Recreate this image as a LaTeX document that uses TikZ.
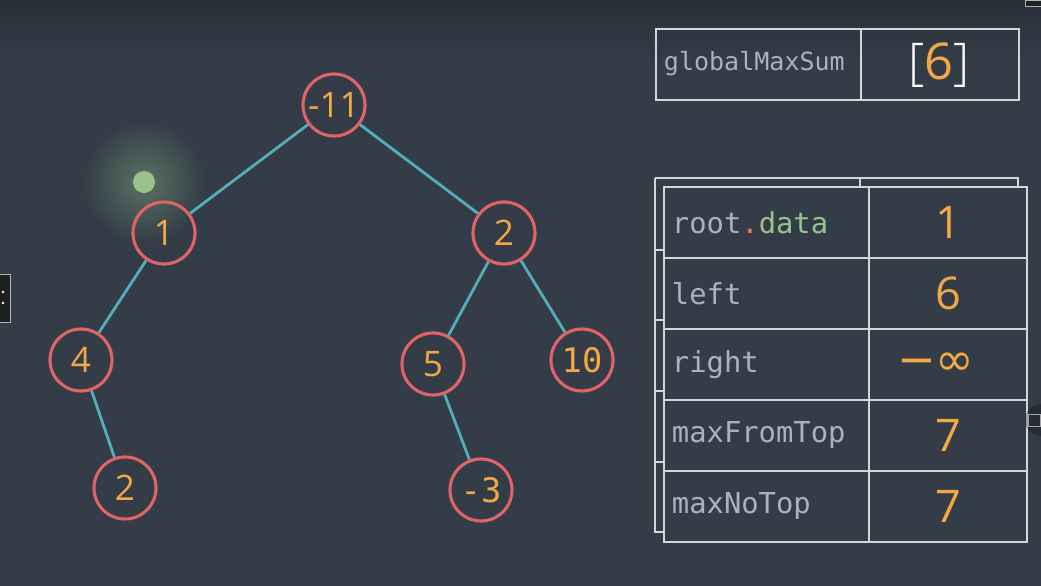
\documentclass[tikz,border=0pt]{standalone}
\usepackage{fontspec}
\setmainfont{Open Sans}
\setmonofont{DejaVu Sans Mono}
\newfontfamily\symfont{DejaVu Sans}
\newfontfamily\lightfont{Open Sans Light}
\definecolor{bg}{HTML}{333C47}
\definecolor{bgtop}{HTML}{292F39}
\definecolor{nodered}{HTML}{E06466}
\definecolor{edgeteal}{HTML}{52AEBA}
\definecolor{numorange}{HTML}{F2A945}
\definecolor{labelgray}{HTML}{A9B2BE}
\definecolor{datagreen}{HTML}{98C48C}
\definecolor{dotorange}{HTML}{E8784A}
\definecolor{tableline}{HTML}{D2D6DA}
\definecolor{glowgreen}{HTML}{98C48C}
\definecolor{widget}{HTML}{1E1F22}
\tikzset{
  tnode/.style={circle, draw=nodered, line width=2.2pt, minimum size=1.55cm, inner sep=0pt,
    text=numorange, font=\fontsize{25}{25}\selectfont},
  edge/.style={draw=edgeteal, line width=2pt},
  cellL/.style={draw=tableline, line width=1.2pt, rectangle, minimum width=5.125cm, minimum height=1.775cm, inner sep=0pt, anchor=north west},
  cellR/.style={draw=tableline, line width=1.2pt, rectangle, minimum width=3.95cm, minimum height=1.775cm, inner sep=0pt, anchor=north west},
  lbl/.style={anchor=west, text=labelgray, font=\ttfamily\fontsize{20.5}{20.5}\selectfont},
  val/.style={text=numorange, font=\fontsize{32}{32}\selectfont},
  backline/.style={draw=tableline, line width=1.2pt},
}
\begin{document}
\begin{tikzpicture}[x=0.025cm,y=-0.025cm]
\fill[bg] (0,0) rectangle (1041,586);
\shade[top color=bgtop, bottom color=bg] (0,0) rectangle (1041,60);
\useasboundingbox (0,0) rectangle (1041,586);

% UI widgets
\node[draw=gray!60, fill=widget, minimum width=0.3cm, minimum height=1.2cm, inner sep=0pt, anchor=north east] (lwidget) at (11,274) {};
\node[fill=white, circle, inner sep=0.7pt] (lw1) at (3,292) {};
\node[fill=white, circle, inner sep=0.7pt] (lw2) at (3,303) {};
\node[draw=gray!60, fill=widget, minimum width=0.4cm, minimum height=0.15cm, inner sep=0pt, anchor=north west] (twidget) at (1025,0) {};

% glow cursor
\shade[inner color=glowgreen!40!bg, outer color=bg] (144,182) circle (62);
\node[circle, fill=glowgreen, minimum size=0.55cm, inner sep=0pt] (cursor) at (144,182) {};

% tree nodes
\node[tnode] (nA) at (334,105) {-11};
\node[tnode] (nB) at (164,233) {1};
\node[tnode] (nC) at (504,233) {2};
\node[tnode] (nD) at (81,360) {4};
\node[tnode] (nE) at (433,364) {5};
\node[tnode, font=\ttfamily\fontsize{24}{24}\selectfont] (nF) at (582,360) {10};
\node[tnode] (nG) at (125,488) {2};
\node[tnode, font=\ttfamily\fontsize{24}{24}\selectfont] (nH) at (481,490) {-3};

\draw[edge] (nA) -- (nB);
\draw[edge] (nA) -- (nC);
\draw[edge] (nB) -- (nD);
\draw[edge] (nD) -- (nG);
\draw[edge] (nC) -- (nE);
\draw[edge] (nC) -- (nF);
\draw[edge] (nE) -- (nH);

% globalMaxSum table
\node[cellL] (gL) at (655,28) {};
\node[cellR] (gR) at (860,28) {};
\node[lbl, font=\ttfamily\fontsize{17.8}{17.8}\selectfont] (gLt) at (659,64) {globalMaxSum};
\node[text=white, font=\lightfont\fontsize{36}{36}\selectfont] (gRt) at (939,65) {[\textcolor{numorange}{\fontspec{Open Sans}6}]};

% back table
\coordinate (b1) at (655,186);
\coordinate (b2) at (655,178);
\coordinate (b3) at (1018,178);
\coordinate (b4) at (1018,186);
\coordinate (b5) at (860,178);
\coordinate (b6) at (860,186);
\coordinate (b7) at (655,532);
\coordinate (b8) at (663,532);
\draw[backline] (b2) -- (b3) -- (b4);
\draw[backline] (b5) -- (b6);
\draw[backline] (b2) -- (b7) -- (b8);
\foreach \yy in {250,320,391,462} {
  \coordinate (t1) at (655,\yy);
  \coordinate (t2) at (663,\yy);
  \draw[backline] (t1) -- (t2);
}

% front table
\foreach \i/\yy in {1/186,2/257,3/328,4/399,5/470} {
  \node[cellL] (L\i) at (663,\yy) {};
  \node[cellR] (R\i) at (868,\yy) {};
}
\node[lbl] (l1) at ([xshift=0.1cm]L1.west) {root\textcolor{dotorange}{.}\textcolor{datagreen}{data}};
\node[lbl] (l2) at ([xshift=0.1cm]L2.west) {left};
\node[lbl] (l3) at ([xshift=0.1cm]L3.west) {right};
\node[lbl] (l4) at ([xshift=0.1cm]L4.west) {maxFromTop};
\node[lbl] (l5) at ([xshift=0.1cm]L5.west) {maxNoTop};
\node[val] (v1) at (R1.center) {1};
\node[val] (v2) at (R2.center) {6};
\node[val, font=\symfont\fontsize{33}{33}\selectfont] (v3) at ([xshift=-0.3cm]R3.center) {−∞};
\node[val] (v4) at (R4.center) {7};
\node[val] (v5) at (R5.center) {7};

% right widget
\fill[black, opacity=0.25] (1041,420) circle (16);
\node[draw=gray!70, line width=0.6pt, minimum size=0.3cm, inner sep=0pt] (rwidget) at (1034,420) {};
\end{tikzpicture}
\end{document}
